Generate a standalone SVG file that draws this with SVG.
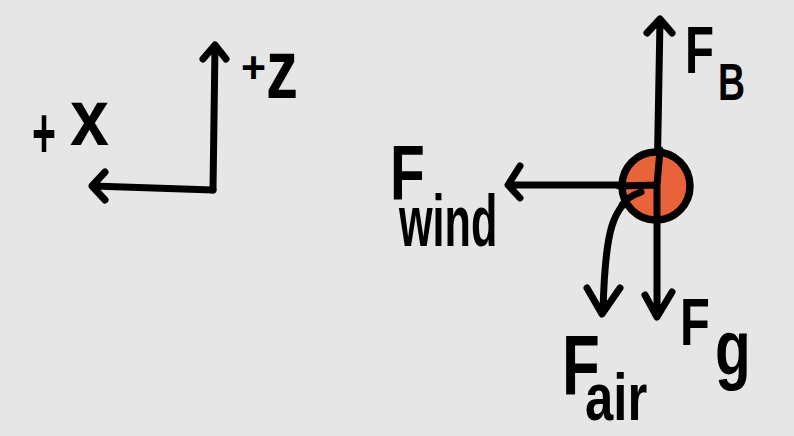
<svg xmlns="http://www.w3.org/2000/svg" width="794" height="436" viewBox="0 0 794 436">
<style>
.ln{fill:none;stroke:#000;stroke-width:7;stroke-linecap:round;stroke-linejoin:round}
.t{font-family:"Liberation Sans","DejaVu Sans",sans-serif;font-weight:bold;fill:#000}
</style>
<rect width="794" height="436" fill="#e6e6e6"/>
<g id="connectors">
<path class="ln" d="M213,190 L215,46 M203,59 L215,45 L226,59"/>
<path class="ln" d="M213,190 L93,186 M105,172 L92,186 L105,200"/>
<path class="ln" d="M657,185 L660,20 M647,33 L660,19 L672,33"/>
<path class="ln" d="M657,185 L509,185 M520,166 L508,185 L520,198"/>
<path class="ln" d="M657,185 L657,316 M645,295 L657,317 L672,292"/>
<path class="ln" d="M641,192 C612,205 605,230 603,312 M587,288 L602,314 L620,288"/>
</g>
<g id="ball">
<circle cx="656" cy="186" r="34" fill="#e8623a" stroke="#000" stroke-width="7.5"/>
<path class="ln" d="M657,185 L660,150 M657,185 L619,186 M657,185 L657,220 M641,192 C630,196 625,200 622,205"/>
</g>
<g id="axis-labels">
<text class="t" x="32" y="158" font-size="72" textLength="24" lengthAdjust="spacingAndGlyphs">+</text>
<text class="t" x="70" y="145" font-size="80" textLength="39" lengthAdjust="spacingAndGlyphs">x</text>
<text class="t" x="241" y="83" font-size="45" textLength="25" lengthAdjust="spacingAndGlyphs">+</text>
<text class="t" x="266" y="98" font-size="84" textLength="32" lengthAdjust="spacingAndGlyphs">z</text>
</g>
<g id="label-FB">
<text class="t" font-size="66" transform="translate(685,73) scale(0.72,1)">F</text>
<text class="t" font-size="52" transform="translate(718,100) scale(0.72,1)">B</text>
</g>
<g id="label-Fwind">
<text class="t" font-size="78" transform="translate(390,200) scale(0.73,1)">F</text>
<text class="t" font-size="72" transform="translate(399,246) scale(0.6,1)">wind</text>
</g>
<g id="label-Fg">
<text class="t" font-size="66" transform="translate(680,345) scale(0.74,1)">F</text>
<text class="t" font-size="78" transform="translate(715,375) scale(0.75,1)">g</text>
</g>
<g id="label-Fair">
<text class="t" font-size="86" transform="translate(562,395) scale(0.72,1)">F</text>
<text class="t" font-size="66" transform="translate(585,420) scale(0.77,1)">air</text>
</g>
</svg>
